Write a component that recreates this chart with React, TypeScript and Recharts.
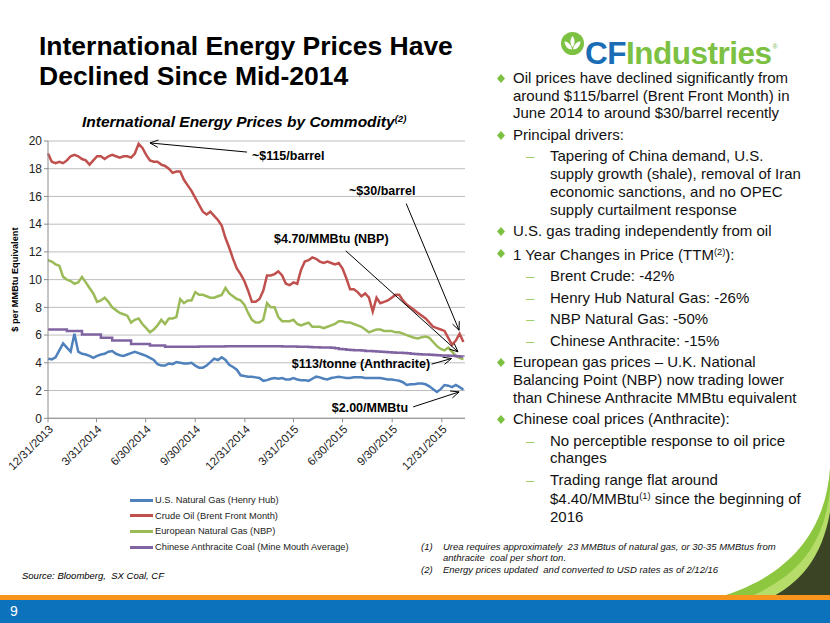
import React from "react";
import {
  LineChart,
  Line,
  XAxis,
  YAxis,
  CartesianGrid,
  Legend,
  ReferenceLine,
  ReferenceDot,
} from "recharts";

// x axis is days since 12/31/2013, one reading per week
const TICK_DAYS = [0, 90, 181, 273, 365, 455, 546, 638, 730];
const TICK_LABELS = [
  "12/31/2013",
  "3/31/2014",
  "6/30/2014",
  "9/30/2014",
  "12/31/2014",
  "3/31/2015",
  "6/30/2015",
  "9/30/2015",
  "12/31/2015",
];
const Y_TICKS = [0, 2, 4, 6, 8, 10, 12, 14, 16, 18, 20];

const SERIES_NAMES = [
  "U.S. Natural Gas (Henry Hub)",
  "Crude Oil (Brent Front Month)",
  "European Natural Gas (NBP)",
  "Chinese Anthracite Coal (Mine Mouth Average)",
];
const SERIES_COLORS = ["#4f81bd", "#c0504d", "#9bbb59", "#8064a2"];

// $ per MMBtu equivalent, weekly
const HENRY_HUB = [
  4.3, 4.25, 4.4, 4.9, 5.4, 5.1, 4.8, 6.1, 4.8, 4.65,
  4.6, 4.5, 4.35, 4.5, 4.6, 4.65, 4.8, 4.85, 4.65, 4.55,
  4.5, 4.6, 4.7, 4.8, 4.7, 4.6, 4.5, 4.35, 4.2, 3.9,
  3.8, 3.8, 3.95, 3.9, 4.05, 4.0, 3.95, 3.95, 4.0, 3.8,
  3.65, 3.65, 3.8, 4.05, 4.3, 4.2, 4.4, 4.2, 3.85, 3.7,
  3.5, 3.1, 3.05, 3.0, 3.0, 2.95, 2.9, 2.7, 2.75, 2.85,
  2.9, 2.85, 2.9, 2.8, 2.8, 2.9, 2.8, 2.75, 2.75, 2.7,
  2.85, 3.0, 2.95, 2.85, 2.8, 2.9, 2.95, 3.0, 2.95, 2.9,
  2.9, 2.95, 2.95, 2.95, 2.9, 2.9, 2.9, 2.9, 2.9, 2.85,
  2.8, 2.8, 2.75, 2.7, 2.6, 2.4, 2.45, 2.45, 2.5, 2.5,
  2.45, 2.3, 2.1, 1.9, 2.1, 2.4, 2.35, 2.25, 2.4, 2.25, 2.05,
];
const BRENT = [
  19.1, 18.5, 18.4, 18.5, 18.4, 18.6, 18.9, 19.0, 18.9, 18.7,
  18.6, 18.3, 18.6, 18.9, 18.9, 18.7, 18.9, 19.0, 18.9, 18.8,
  18.9, 18.9, 18.8, 19.1, 19.8, 19.5, 19.0, 18.6, 18.5, 18.5,
  18.3, 18.2, 18.0, 17.7, 17.8, 17.8, 17.2, 16.8, 16.4, 15.9,
  15.4, 14.9, 14.7, 14.9, 14.6, 14.3, 13.9, 13.0, 12.3, 11.5,
  10.8, 10.4, 9.9, 9.2, 8.4, 8.4, 8.6, 9.2, 10.3, 10.3,
  10.4, 10.6, 10.3, 9.7, 9.6, 9.8, 9.7, 10.7, 11.3, 11.4,
  11.6, 11.5, 11.3, 11.2, 11.3, 11.2, 11.1, 11.2, 10.8, 10.1,
  9.3, 9.3, 9.1, 8.8, 9.0, 8.7, 7.7, 8.7, 8.3, 8.4,
  8.5, 8.7, 8.9, 8.9, 8.5, 8.2, 8.0, 7.8, 7.6, 7.4,
  7.2, 6.9, 6.6, 6.5, 6.4, 6.3, 5.8, 5.3, 5.6, 6.1, 5.5,
];
const NBP = [
  11.4, 11.3, 11.1, 11.0, 10.2, 10.0, 9.9, 9.7, 9.8, 10.2,
  9.8, 9.4, 9.0, 8.4, 8.5, 8.7, 8.4, 8.0, 7.8, 7.6,
  7.5, 7.4, 6.9, 7.1, 7.2, 6.8, 6.5, 6.2, 6.4, 6.7,
  7.1, 6.8, 7.2, 7.2, 7.3, 8.6, 8.3, 8.5, 8.5, 9.1,
  8.9, 8.9, 8.8, 8.7, 8.7, 8.8, 8.9, 9.4, 9.0, 8.8,
  8.6, 8.5, 8.2, 7.6, 7.1, 6.9, 6.9, 7.1, 8.3, 8.0,
  8.0, 7.3, 7.0, 7.0, 7.0, 7.1, 6.8, 6.7, 6.8, 6.9,
  6.6, 6.6, 6.6, 6.5, 6.6, 6.7, 6.8, 7.0, 7.0, 6.9,
  6.9, 6.8, 6.7, 6.6, 6.4, 6.2, 6.3, 6.4, 6.4, 6.3,
  6.3, 6.3, 6.2, 6.2, 6.1, 6.0, 5.9, 5.8, 5.75, 5.85,
  5.9, 5.8, 5.5, 5.2, 5.0, 4.9, 5.1, 4.8, 4.5, 4.35, 4.25,
];
const ANTHRACITE = [
  6.4, 6.4, 6.4, 6.4, 6.4, 6.3, 6.3, 6.3, 6.3, 6.05,
  6.05, 6.05, 6.05, 6.05, 5.8, 5.8, 5.8, 5.6, 5.6, 5.6,
  5.6, 5.6, 5.35, 5.35, 5.35, 5.35, 5.35, 5.25, 5.25, 5.25,
  5.25, 5.15, 5.15, 5.15, 5.15, 5.15, 5.15, 5.15, 5.15, 5.15,
  5.17, 5.17, 5.17, 5.17, 5.17, 5.17, 5.17, 5.2, 5.2, 5.2,
  5.2, 5.2, 5.2, 5.2, 5.2, 5.2, 5.2, 5.2, 5.2, 5.2,
  5.2, 5.2, 5.18, 5.18, 5.17, 5.17, 5.16, 5.15, 5.15, 5.14,
  5.13, 5.12, 5.11, 5.1, 5.1, 5.08, 5.05, 5.0, 4.98, 4.95,
  4.92, 4.9, 4.9, 4.88, 4.86, 4.85, 4.83, 4.82, 4.8, 4.78,
  4.77, 4.75, 4.73, 4.72, 4.7, 4.68, 4.66, 4.64, 4.62, 4.6,
  4.6, 4.58, 4.56, 4.55, 4.53, 4.52, 4.5, 4.5, 4.48, 4.46, 4.45,
];
const DAYS = HENRY_HUB.map((_, i) => i * 7);

// callouts: label start, arrow tail, arrow head (day, value)
const CALLOUTS = [
  { text: "~$115/barrel", at: [378, 18.92], from: [369, 19.2], to: [189, 19.86] },
  { text: "~$30/barrel", at: [558, 16.39], from: [664, 15.49], to: [762, 6.35] },
  { text: "$4.70/MMBtu (NBP)", at: [419, 12.97], from: [552, 12.08], to: [760, 4.79] },
  { text: "$113/tonne (Anthracite)", at: [452, 3.95], from: [711, 3.9], to: [748, 4.31] },
  { text: "$2.00/MMBtu", at: [526, 0.77], from: [677, 0.82], to: [762, 1.9] },
];

const data = DAYS.map((day, i) => ({
  day,
  hh: HENRY_HUB[i],
  brent: BRENT[i],
  nbp: NBP[i],
  coal: ANTHRACITE[i],
}));

const FONT = '"Liberation Sans", Arial, Helvetica, sans-serif';
const GREEN = "#7cc142";

const Arrow = (props: any) => {
  const { x1, y1, x2, y2 } = props;
  const a = Math.atan2(y2 - y1, x2 - x1);
  const len = 9;
  const s = 0.42;
  const ax = x2 - len * Math.cos(a - s);
  const ay = y2 - len * Math.sin(a - s);
  const bx = x2 - len * Math.cos(a + s);
  const by = y2 - len * Math.sin(a + s);
  return (
    <g>
      <line x1={x1} y1={y1} x2={x2} y2={y2} stroke="#000" strokeWidth={1} />
      <path d={`M${ax},${ay}L${x2},${y2}L${bx},${by}`} fill="none" stroke="#000" strokeWidth={1} />
    </g>
  );
};

// legend rows in the same order as the series list
const LegendBox = (props: any) => {
  const items = [...(props.payload || [])].sort(
    (a: any, b: any) => SERIES_NAMES.indexOf(a.value) - SERIES_NAMES.indexOf(b.value)
  );
  return (
    <div style={{ fontFamily: FONT, fontSize: 9.3, color: "#222" }}>
      {items.map((p: any) => (
        <div key={p.value} style={{ display: "flex", alignItems: "center", height: 15.7 }}>
          <span style={{ display: "inline-block", width: 23, height: 3, background: p.color }} />
          <span style={{ marginLeft: 2 }}>{p.value}</span>
        </div>
      ))}
    </div>
  );
};

const YLabel = (props: any) => {
  const vb = props.viewBox || { x: 0, y: 0, width: 0, height: 0 };
  const cx = vb.x + 16;
  const cy = vb.y + vb.height / 2;
  return (
    <text
      x={cx}
      y={cy}
      transform={`rotate(-90 ${cx} ${cy})`}
      textAnchor="middle"
      dominantBaseline="middle"
      fontFamily={FONT}
      fontSize={9.2}
      fontWeight={700}
      fill="#000"
    >
      $ per MMBtu Equivalent
    </text>
  );
};

const Sup = ({ children }: any) => (
  <span style={{ fontSize: "0.62em", verticalAlign: "0.55em" }}>{children}</span>
);

const BLOCKS: { kind: "main" | "sub"; lines: React.ReactNode[] }[] = [
  {
    kind: "main",
    lines: [
      "Oil prices have declined significantly from",
      "around $115/barrel (Brent Front Month) in",
      "June 2014 to around $30/barrel recently",
    ],
  },
  { kind: "main", lines: ["Principal drivers:"] },
  {
    kind: "sub",
    lines: [
      "Tapering of China demand, U.S.",
      "supply growth (shale), removal of Iran",
      "economic sanctions, and no OPEC",
      "supply curtailment response",
    ],
  },
  { kind: "main", lines: ["U.S. gas trading independently from oil"] },
  {
    kind: "main",
    lines: [
      <>
        1 Year Changes in Price (TTM<Sup>(2)</Sup>):
      </>,
    ],
  },
  { kind: "sub", lines: ["Brent Crude: -42%"] },
  { kind: "sub", lines: ["Henry Hub Natural Gas: -26%"] },
  { kind: "sub", lines: ["NBP Natural Gas: -50%"] },
  { kind: "sub", lines: ["Chinese Anthracite: -15%"] },
  {
    kind: "main",
    lines: [
      "European gas prices \u2013 U.K. National",
      "Balancing Point (NBP) now trading lower",
      "than Chinese Anthracite MMBtu equivalent",
    ],
  },
  { kind: "main", lines: ["Chinese coal prices (Anthracite):"] },
  { kind: "sub", lines: ["No perceptible response to oil price", "changes"] },
  {
    kind: "sub",
    lines: [
      "Trading range flat around",
      <>
        $4.40/MMBtu<Sup>(1)</Sup> since the beginning of
      </>,
      "2016",
    ],
  },
];

export default function App() {
  return (
    <div
      style={{
        position: "absolute",
        left: 0,
        top: 0,
        width: 830,
        height: 623,
        background: "#fff",
        overflow: "hidden",
        fontFamily: FONT,
        color: "#000",
      }}
    >
      {/* slide title */}
      <div
        style={{
          position: "absolute",
          left: 39,
          top: 31,
          fontSize: 26.5,
          lineHeight: "30px",
          fontWeight: 700,
          whiteSpace: "nowrap",
        }}
      >
        International Energy Prices Have
        <br />
        Declined Since Mid-2014
      </div>

      {/* logo */}
      <svg style={{ position: "absolute", left: 561, top: 32 }} width={23} height={23}>
        <circle cx={11.5} cy={11.5} r={11.5} fill={GREEN} />
        <path d="M11.5 4 C8.8 7.5 8.8 11.5 11.5 15.5 C14.2 11.5 14.2 7.5 11.5 4Z" fill="#fff" />
        <path d="M3.5 9.5 C6.5 9.5 10.2 12 11 17.5 C7 17.5 3.8 14 3.5 9.5Z" fill="#fff" />
        <path d="M19.5 9.5 C16.5 9.5 12.8 12 12 17.5 C16 17.5 19.2 14 19.5 9.5Z" fill="#fff" />
      </svg>
      <div
        style={{
          position: "absolute",
          left: 585,
          top: 31,
          fontSize: 31.5,
          lineHeight: "31px",
          fontWeight: 700,
          whiteSpace: "nowrap",
          letterSpacing: -0.5,
        }}
      >
        <span style={{ color: "#1a6db5" }}>CF</span>
        <span style={{ color: GREEN }}>Industries</span>
        <span style={{ color: "#9ac97a", fontSize: 7, verticalAlign: "2.2em", marginLeft: 1 }}>®</span>
      </div>

      {/* chart title */}
      <div
        style={{
          position: "absolute",
          left: 82,
          top: 113,
          fontSize: 15.5,
          fontWeight: 700,
          fontStyle: "italic",
          whiteSpace: "nowrap",
        }}
      >
        International Energy Prices by Commodity<Sup>(2)</Sup>
      </div>

      <div style={{ position: "absolute", left: 0, top: 130 }}>
        <LineChart
          width={480}
          height={430}
          data={data}
          margin={{ top: 11, right: 15, left: 0, bottom: 5 }}
        >
          <CartesianGrid vertical={false} stroke="#bdbdbd" />
          <XAxis
            type="number"
            dataKey="day"
            domain={[0, 773]}
            ticks={TICK_DAYS}
            interval={0}
            tickFormatter={(v: number) => TICK_LABELS[TICK_DAYS.indexOf(v)]}
            angle={-45}
            textAnchor="end"
            height={74}
            tickSize={4}
            tick={{ fontSize: 11.5, fill: "#222", fontFamily: FONT }}
            stroke="#8c8c8c"
          />
          <YAxis
            domain={[0, 20]}
            ticks={Y_TICKS}
            interval={0}
            width={48}
            tickSize={4}
            tick={{ fontSize: 12, fill: "#222", fontFamily: FONT }}
            stroke="#8c8c8c"
            label={YLabel}
          />
          <Legend
            layout="horizontal"
            verticalAlign="bottom"
            align="left"
            content={LegendBox}
            wrapperStyle={{ left: 130, width: 300 }}
          />
          <Line
            name={SERIES_NAMES[0]}
            dataKey="hh"
            stroke={SERIES_COLORS[0]}
            strokeWidth={2.5}
            dot={false}
            isAnimationActive={false}
          />
          <Line
            name={SERIES_NAMES[1]}
            dataKey="brent"
            stroke={SERIES_COLORS[1]}
            strokeWidth={2.5}
            dot={false}
            isAnimationActive={false}
          />
          <Line
            name={SERIES_NAMES[2]}
            dataKey="nbp"
            stroke={SERIES_COLORS[2]}
            strokeWidth={2.5}
            dot={false}
            isAnimationActive={false}
          />
          <Line
            name={SERIES_NAMES[3]}
            dataKey="coal"
            type="stepAfter"
            stroke={SERIES_COLORS[3]}
            strokeWidth={2.5}
            dot={false}
            isAnimationActive={false}
          />
          {CALLOUTS.map((c) => (
            <ReferenceLine
              key={"a" + c.text}
              segment={[
                { x: c.from[0], y: c.from[1] },
                { x: c.to[0], y: c.to[1] },
              ]}
              ifOverflow="visible"
              shape={Arrow}
            />
          ))}
          {CALLOUTS.map((c) => (
            <ReferenceDot
              key={"t" + c.text}
              x={c.at[0]}
              y={c.at[1]}
              r={0}
              fill="none"
              stroke="none"
              ifOverflow="visible"
              label={{
                value: c.text,
                position: "right",
                offset: 0,
                fontSize: 12.5,
                fontWeight: 700,
                fill: "#000",
                fontFamily: FONT,
              }}
            />
          ))}
        </LineChart>
      </div>

      {/* source */}
      <div
        style={{
          position: "absolute",
          left: 22,
          top: 570,
          fontSize: 9.5,
          fontStyle: "italic",
          whiteSpace: "nowrap",
        }}
      >
        Source: Bloomberg,&nbsp; SX Coal, CF
      </div>

      {/* right column */}
      <div style={{ position: "absolute", left: 497, top: 69, fontSize: 15, lineHeight: "17.7px", color: "#111" }}>
        {BLOCKS.map((b, i) => (
          <div key={i} style={{ position: "relative", marginTop: i === 0 ? 0 : 3.8, whiteSpace: "nowrap" }}>
            {b.kind === "main" ? (
              <svg style={{ position: "absolute", left: 0, top: 5 }} width={8} height={9}>
                <path d="M4 0 L8 4.5 L4 9 L0 4.5Z" fill={GREEN} />
              </svg>
            ) : (
              <span style={{ position: "absolute", left: 29, top: 0, color: "#9bd06a" }}>{"\u2013"}</span>
            )}
            <div style={{ paddingLeft: b.kind === "main" ? 16 : 53 }}>
              {b.lines.map((l, j) => (
                <div key={j}>{l}</div>
              ))}
            </div>
          </div>
        ))}
      </div>

      {/* footnotes */}
      <div
        style={{
          position: "absolute",
          left: 421,
          top: 541,
          fontSize: 9.5,
          lineHeight: "11.3px",
          fontStyle: "italic",
          whiteSpace: "nowrap",
          color: "#111",
        }}
      >
        <div style={{ display: "flex" }}>
          <span style={{ width: 22 }}>(1)</span>
          <span>
            Urea requires approximately&nbsp; 23 MMBtus of natural gas, or 30-35 MMBtus from
            <br />
            anthracite&nbsp; coal per short ton.
          </span>
        </div>
        <div style={{ display: "flex" }}>
          <span style={{ width: 22 }}>(2)</span>
          <span>Energy prices updated&nbsp; and converted to USD rates as of 2/12/16</span>
        </div>
      </div>

      {/* corner swoosh */}
      <svg style={{ position: "absolute", left: 680, top: 460 }} width={150} height={140}>
        <path d="M150 8 C146 70 110 120 28 140 L150 140 Z" fill="#8dc63f" />
        <path d="M150 30 C144 85 118 118 62 140 L150 140 Z" fill="#b6dc6a" />
        <path d="M150 52 C142 98 120 124 86 140 L150 140 Z" fill="#3b4424" />
      </svg>

      {/* footer bar */}
      <div style={{ position: "absolute", left: 0, top: 595, width: 830, height: 5, background: "#f7941d" }} />
      <div style={{ position: "absolute", left: 0, top: 600, width: 830, height: 23, background: "#0b72bb" }} />
      <div style={{ position: "absolute", left: 10, top: 603, fontSize: 14, color: "#fff" }}>9</div>
    </div>
  );
}
